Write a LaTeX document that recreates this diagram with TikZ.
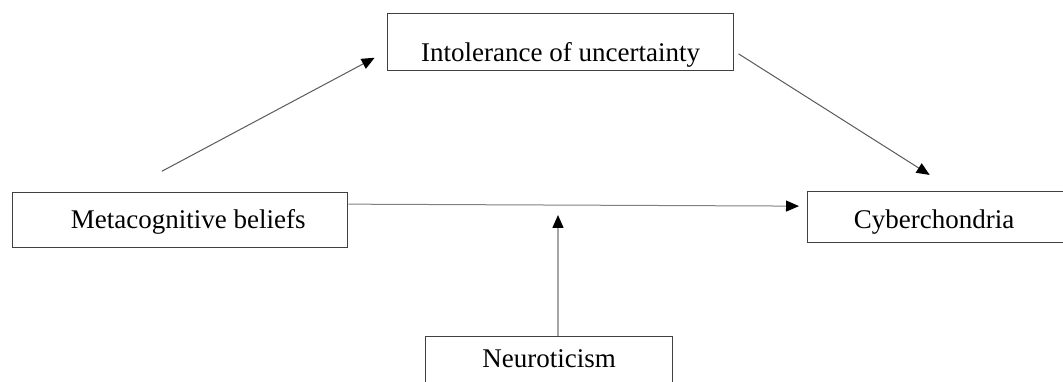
\documentclass[tikz,border=0pt]{standalone}
\usepackage{fontspec}
\setmainfont{Liberation Serif}
\usetikzlibrary{arrows.meta}

\tikzset{
  varbox/.style={draw=black!75, line width=1.3pt, inner sep=0pt, anchor=north west, font=\fontsize{27}{32}\selectfont},
  link/.style={draw=black!65, line width=1pt, -{Triangle[length=13pt,width=11pt,color=black]}},
}

\begin{document}
\begin{tikzpicture}[x=1pt, y=-1pt]
\clip (0,0) rectangle (1063,382);

%Boxes
\node[varbox, minimum width=346pt, text height=48pt, text depth=9pt] (intol) at (387,13) {Intolerance of uncertainty};
\node[varbox, minimum width=335pt, text height=36pt, text depth=19pt] (meta) at (12,192) {\hspace*{16pt}Metacognitive beliefs};
\node[varbox, minimum width=263pt, text height=37pt, text depth=14pt] (cyber) at (807,191) {\hspace*{-10pt}Cyberchondria};
\node[varbox, minimum width=247pt, text height=31pt, text depth=28pt] (neuro) at (425,336) {Neuroticism};

%Paths
\draw [link, shorten <=44pt, shorten >=14pt] ([shift={(111,0)}]meta.north west) -- ([shift={(0,9)}]intol.west);
\draw [link, shorten <=5pt, shorten >=30pt] ([shift={(0,9)}]intol.east) -- ([shift={(148,0)}]cyber.north west);
\draw [link, draw=gray, shorten >=8pt] ([shift={(0,-16)}]meta.east) -- ([shift={(0,-11)}]cyber.west);

%Moderator
\coordinate (mod) at (558,215);
\draw [link, draw=black!35, line width=1.5pt] (neuro.north -| mod) -- (mod);
\end{tikzpicture}
\end{document}
